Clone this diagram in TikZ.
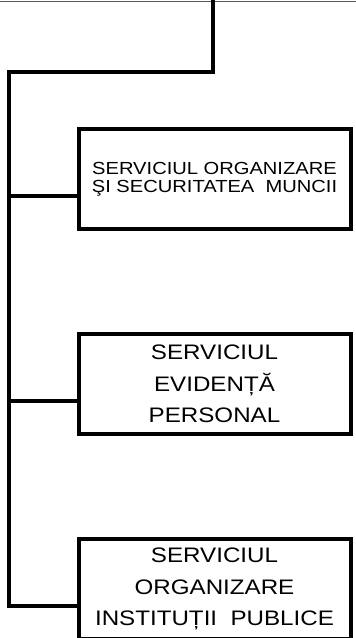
\documentclass[tikz,border=0pt]{standalone}
\usepackage{fontspec}
\setmainfont{Liberation Sans}
\newfontfamily\unitfont[FakeStretch=1.15]{Liberation Sans}
\usetikzlibrary{positioning}
\tikzset{
  every picture/.append style={line width=0.6pt},
  unitbox/.style={draw, line width=4pt, align=center, inner sep=0pt,
    minimum width=272pt, minimum height=100pt},
  smalltext/.style={font=\unitfont\fontsize{17.5}{18.5}\selectfont},
  bigtext/.style={font=\unitfont\fontsize{21}{31.5}\selectfont},
  link/.style={line width=3.6pt},
}

\begin{document}
\begin{tikzpicture}[x=1pt,y=-1pt]
\useasboundingbox (0,0) rectangle (356,638);

% Units
\node[unitbox, smalltext] (organizare) at (214.5,179)
  {SERVICIUL ORGANIZARE\\ŞI SECURITATEA~~MUNCII};
\node[unitbox, bigtext, below=101pt of organizare] (evidenta)
  {SERVICIUL\\EVIDENȚĂ\\PERSONAL};
\node[unitbox, bigtext, below=101pt of evidenta] (institutii)
  {SERVICIUL\\ORGANIZARE\\INSTITUȚII~~PUBLICE};

% Spine
\draw[line width=1.2pt, gray!70!black] (0,1.5) coordinate (edgeL) -- (356,1.5) coordinate (edgeR);
\coordinate (top) at (213,0);
\coordinate (bend) at (213,72);
\coordinate (corner) at (9,72);
\coordinate (tap1) at ([yshift=-17pt]organizare.west);
\coordinate (tap2) at ([yshift=-17pt]evidenta.west);
\coordinate (tap3) at ([yshift=-17pt]institutii.west);

\draw[link] (top) -- (bend) -- (corner) |- (tap3);
\draw[link] (corner |- tap1) -- (tap1);
\draw[link] (corner |- tap2) -- (tap2);
\end{tikzpicture}
\end{document}
